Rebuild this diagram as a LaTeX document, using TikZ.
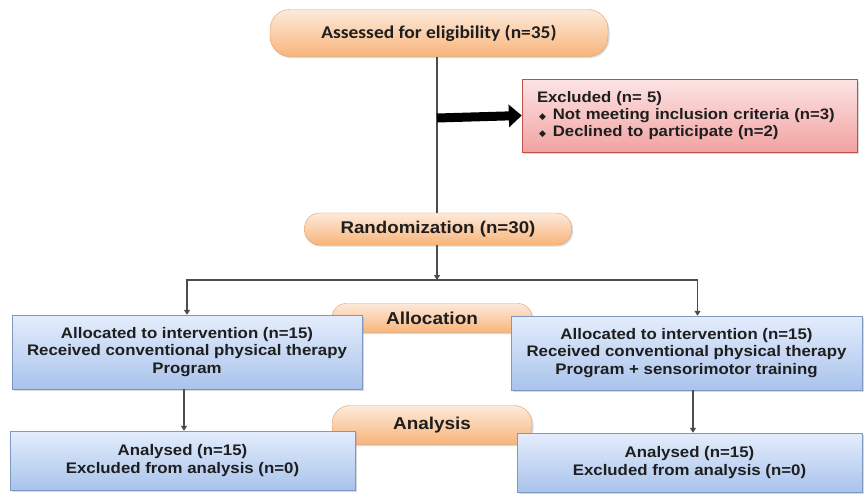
\documentclass[tikz,border=0pt]{standalone}
\usepackage{fontspec}
\setmainfont[FakeStretch=1.1]{Liberation Sans}
\newfontfamily\calibri[FakeStretch=1.08]{Carlito}
\newfontfamily\symfont{DejaVu Sans}
\usetikzlibrary{arrows.meta,shadows}

\definecolor{pilltop}{HTML}{FDEADB}
\definecolor{pillbot}{HTML}{F8B47A}
\definecolor{pillline}{HTML}{E3A067}
\definecolor{boxtop}{HTML}{E4EDFC}
\definecolor{boxbot}{HTML}{A9C3EC}
\definecolor{boxline}{HTML}{7F98C0}
\definecolor{extop}{HTML}{FDE4E4}
\definecolor{exbot}{HTML}{F2A2A2}
\definecolor{exline}{HTML}{C0504D}
\definecolor{ink}{HTML}{1E1E1E}

\tikzset{
  pill/.style={draw=pillline, top color=pilltop, bottom color=pillbot,
    rounded corners=#1, text=ink, font=\bfseries, inner sep=0pt,
    drop shadow={shadow xshift=1.5pt, shadow yshift=-1.5pt, opacity=0.3}},
  bluebox/.style={draw=boxline, top color=boxtop, bottom color=boxbot,
    text=ink, align=center, inner sep=0pt,
    font=\bfseries\fontsize{15.3}{17.5}\selectfont,
    drop shadow={shadow xshift=1.5pt, shadow yshift=-1.5pt, opacity=0.3}},
  exbox/.style={draw=exline, top color=extop, bottom color=exbot,
    text=ink, align=left, inner xsep=15pt,
    font=\bfseries\fontsize{15.2}{17}\selectfont,
    drop shadow={shadow xshift=1.5pt, shadow yshift=-1.5pt, opacity=0.3}},
  line/.style={draw=black!70, line width=1.3pt},
  arrow/.style={line, -{Triangle[length=5pt,width=6pt]}},
  bigarrow/.style={draw=black, line width=9pt, -{Triangle[length=13pt,width=22pt]}},
}
\newcommand{\bul}{\hspace{2pt}{\symfont\fontsize{9}{9}\selectfont ◆}\hspace{7pt}}

\begin{document}
\begin{tikzpicture}[x=1pt,y=-1pt]
\useasboundingbox[fill=white] (0,0) rectangle (865,493);

% stages
\node[pill=20pt, minimum width=338pt, minimum height=47pt,
  font=\calibri\bfseries\fontsize{18}{18}\selectfont] (assess) at (439,33)
  {Assessed for eligibility (n=35)};
\node[pill=15pt, minimum width=267pt, minimum height=32pt,
  font=\bfseries\fontsize{17}{17}\selectfont] (rand) at (438,229)
  {Randomization (n=30)};
\node[pill=14pt, minimum width=200pt, minimum height=29pt,
  font=\bfseries\fontsize{17.3}{17.3}\selectfont] (alloc) at (432,318) {Allocation};
\node[pill=18pt, minimum width=200pt, minimum height=39pt,
  font=\bfseries\fontsize{17.2}{17.2}\selectfont] (analysis) at (432,425) {Analysis};

% excluded
\node[exbox, text width=305pt, minimum height=73pt] (excl) at (689.5,115.5)
  {Excluded (n= 5)\\
   \bul Not meeting inclusion criteria (n=3)\\
   \bul Declined to participate (n=2)};

% groups
\node[bluebox, minimum width=350pt, minimum height=74pt] (left) at (187,352)
  {Allocated to intervention (n=15)\\
   Received conventional physical therapy\\
   Program};
\node[bluebox, minimum width=351pt, minimum height=74pt] (right) at (686.5,353)
  {Allocated to intervention (n=15)\\
   Received conventional physical therapy\\
   Program + sensorimotor training};
\node[bluebox, minimum width=345pt, minimum height=59pt] (lana) at (182.5,460.5)
  {Analysed (n=15)\\ Excluded from analysis (n=0)};
\node[bluebox, minimum width=345pt, minimum height=59pt] (rana) at (689.5,462.5)
  {Analysed (n=15)\\ Excluded from analysis (n=0)};

% connectors
\coordinate (split) at (437,118);
\coordinate (junc) at (437,280);
\draw[line] (assess.south -| split) -- (rand.north -| split);
\draw[bigarrow] (split) -- (excl.west);
\draw[arrow] (rand.south -| junc) -- (junc);
\draw[arrow] (junc) -| (left.north);
\draw[arrow] (junc) -| ([xshift=11pt]right.north);
\draw[arrow] ([xshift=-3pt]left.south) -- ([xshift=-3pt]left.south |- lana.north);
\draw[arrow] ([xshift=3.5pt]rana.north |- right.south) -- ([xshift=3.5pt]rana.north);
\end{tikzpicture}
\end{document}
